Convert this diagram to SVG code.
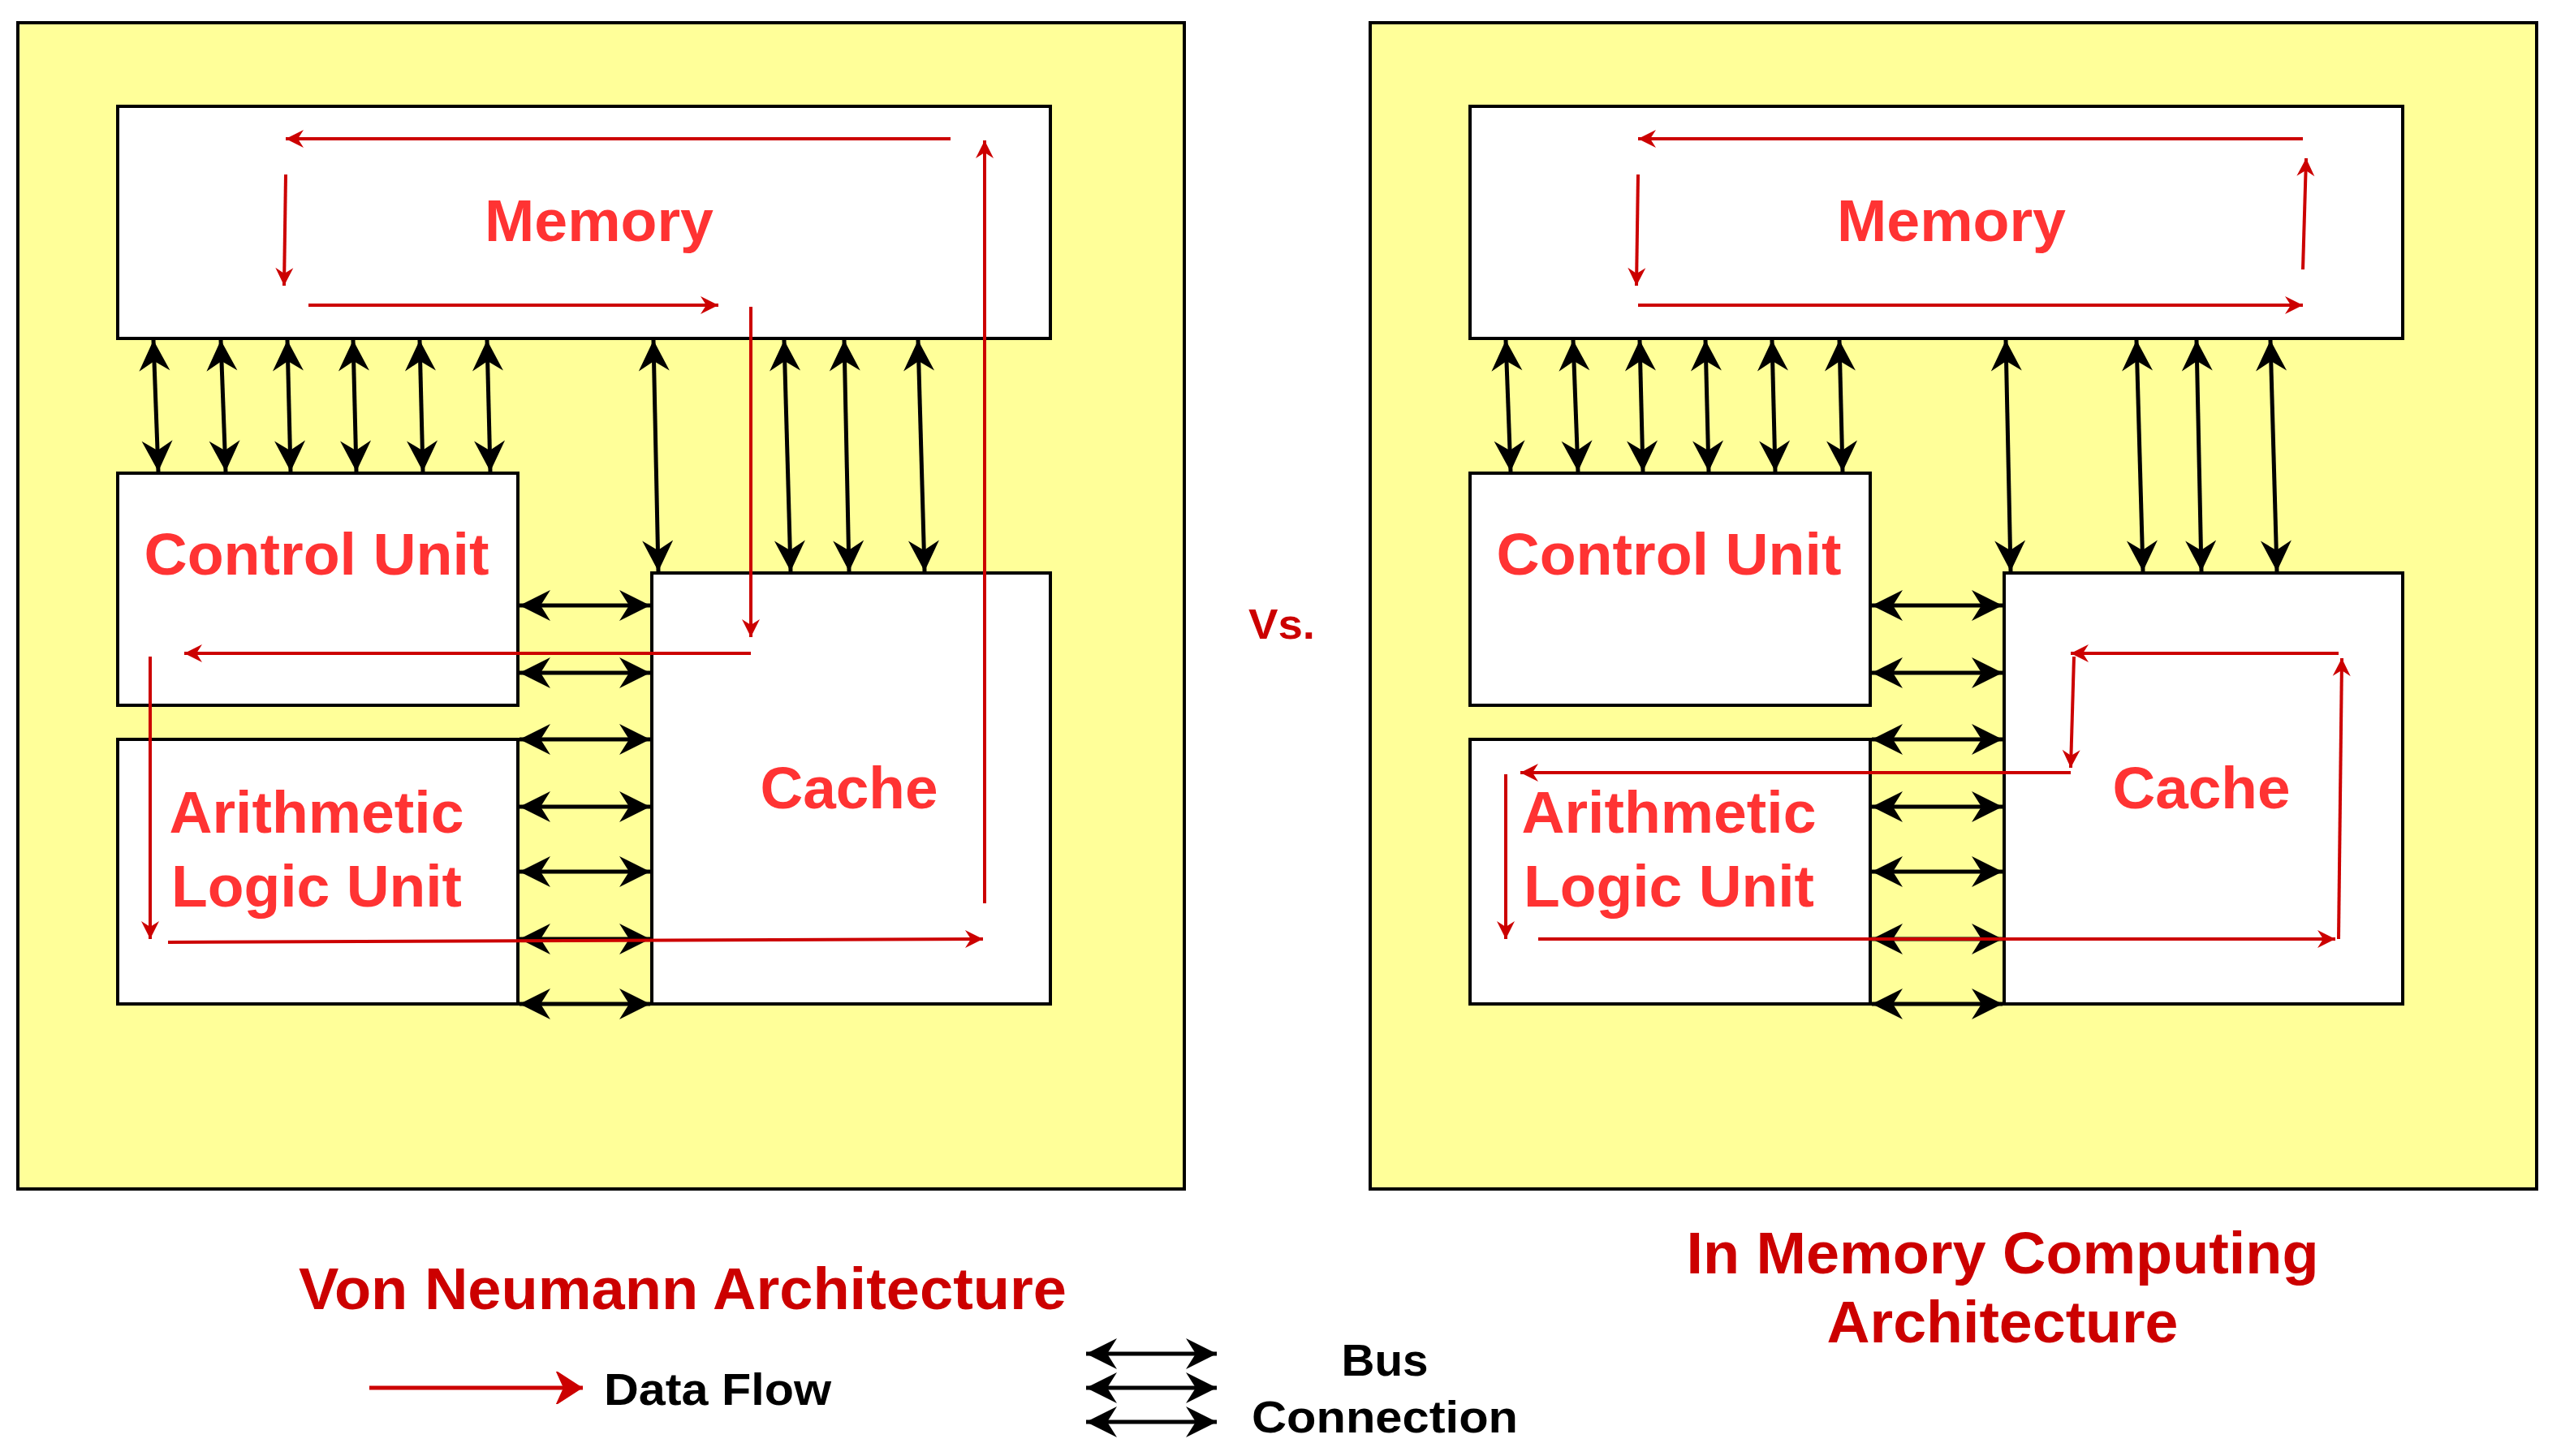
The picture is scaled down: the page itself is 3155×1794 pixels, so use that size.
<svg xmlns="http://www.w3.org/2000/svg" width="3155" height="1794" viewBox="0 0 3155 1794">
<style>
.panel{fill:#ffff99;stroke:#000;stroke-width:4}
.box{fill:#fff;stroke:#000;stroke-width:4}
.lbl{font-family:"Liberation Sans",Arial,sans-serif;font-weight:bold;font-size:72px;fill:#ff3333;text-anchor:middle}
.title{font-family:"Liberation Sans",Arial,sans-serif;font-weight:bold;font-size:72px;fill:#cc0000;text-anchor:middle}
.leg{font-family:"Liberation Sans",Arial,sans-serif;font-weight:bold;font-size:56px;fill:#000}
.bus{stroke:#000;stroke-width:5;fill:none;marker-start:url(#bk);marker-end:url(#bk)}
.flow{stroke:#cc0000;stroke-width:4;fill:none;marker-end:url(#rd)}
</style>
<defs>
<marker id="bk" viewBox="-40 -20 42 40" refX="0" refY="0" markerWidth="42" markerHeight="40" markerUnits="userSpaceOnUse" orient="auto-start-reverse">
<path d="M-38,-19 L0,0 L-38,19 L-26,0 Z" fill="#000"/>
</marker>
<marker id="rd" viewBox="-24 -12 26 24" refX="0" refY="0" markerWidth="26" markerHeight="24" markerUnits="userSpaceOnUse" orient="auto">
<path d="M-22,-11 L0,0 L-22,11 L-15,0 Z" fill="#cc0000"/>
</marker>
<marker id="rdL" viewBox="-40 -20 42 40" refX="0" refY="0" markerWidth="42" markerHeight="40" markerUnits="userSpaceOnUse" orient="auto">
<path d="M-34,-22 L0,0 L-34,22 L-24,0 Z" fill="#cc0000"/>
</marker>
</defs>
<rect width="3155" height="1794" fill="#fff"/>

<g id="panel-left">
<rect class="panel" x="22" y="28" width="1437" height="1437"/>
</g>
<g id="panel-right">
<rect class="panel" x="1688" y="28" width="1437" height="1437"/>
</g>

<g id="memory-left"><rect class="box" x="145" y="131" width="1149" height="286"/><text class="lbl" x="738" y="297" textLength="282" lengthAdjust="spacingAndGlyphs">Memory</text></g>
<g id="cu-left"><rect class="box" x="145" y="583" width="493" height="286"/><text class="lbl" x="390" y="708" textLength="425" lengthAdjust="spacingAndGlyphs">Control Unit</text></g>
<g id="alu-left"><rect class="box" x="145" y="911" width="493" height="326"/><text class="lbl" x="390" y="1026" textLength="363" lengthAdjust="spacingAndGlyphs">Arithmetic</text><text class="lbl" x="390" y="1117" textLength="358" lengthAdjust="spacingAndGlyphs">Logic Unit</text></g>
<g id="cache-left"><rect class="box" x="803" y="706" width="491" height="531"/><text class="lbl" x="1046" y="996" textLength="219" lengthAdjust="spacingAndGlyphs">Cache</text></g>

<g id="memory-right"><rect class="box" x="1811" y="131" width="1149" height="286"/><text class="lbl" x="2404" y="297" textLength="282" lengthAdjust="spacingAndGlyphs">Memory</text></g>
<g id="cu-right"><rect class="box" x="1811" y="583" width="493" height="286"/><text class="lbl" x="2056" y="708" textLength="425" lengthAdjust="spacingAndGlyphs">Control Unit</text></g>
<g id="alu-right"><rect class="box" x="1811" y="911" width="493" height="326"/><text class="lbl" x="2056" y="1026" textLength="363" lengthAdjust="spacingAndGlyphs">Arithmetic</text><text class="lbl" x="2056" y="1117" textLength="358" lengthAdjust="spacingAndGlyphs">Logic Unit</text></g>
<g id="cache-right"><rect class="box" x="2469" y="706" width="491" height="531"/><text class="lbl" x="2712" y="996" textLength="219" lengthAdjust="spacingAndGlyphs">Cache</text></g>

<g id="connectors">
<g id="bus-left">
<line class="bus" x1="189" y1="419" x2="195" y2="581"/>
<line class="bus" x1="272" y1="419" x2="278" y2="581"/>
<line class="bus" x1="354" y1="419" x2="358" y2="581"/>
<line class="bus" x1="435" y1="419" x2="439" y2="581"/>
<line class="bus" x1="517" y1="419" x2="521" y2="581"/>
<line class="bus" x1="600" y1="419" x2="604" y2="581"/>
<line class="bus" x1="805" y1="419" x2="811" y2="704"/>
<line class="bus" x1="966" y1="419" x2="974" y2="704"/>
<line class="bus" x1="1040" y1="419" x2="1046" y2="704"/>
<line class="bus" x1="1131" y1="419" x2="1139" y2="704"/>
<line class="bus" x1="640" y1="746" x2="801" y2="746"/>
<line class="bus" x1="640" y1="829" x2="801" y2="829"/>
<line class="bus" x1="640" y1="911" x2="801" y2="911"/>
<line class="bus" x1="640" y1="994" x2="801" y2="994"/>
<line class="bus" x1="640" y1="1074" x2="801" y2="1074"/>
<line class="bus" x1="640" y1="1157" x2="801" y2="1157"/>
<line class="bus" x1="640" y1="1237" x2="801" y2="1237"/>
</g>
<g id="bus-right" transform="translate(1666,0)">
<line class="bus" x1="189" y1="419" x2="195" y2="581"/>
<line class="bus" x1="272" y1="419" x2="278" y2="581"/>
<line class="bus" x1="354" y1="419" x2="358" y2="581"/>
<line class="bus" x1="435" y1="419" x2="439" y2="581"/>
<line class="bus" x1="517" y1="419" x2="521" y2="581"/>
<line class="bus" x1="600" y1="419" x2="604" y2="581"/>
<line class="bus" x1="805" y1="419" x2="811" y2="704"/>
<line class="bus" x1="966" y1="419" x2="974" y2="704"/>
<line class="bus" x1="1040" y1="419" x2="1046" y2="704"/>
<line class="bus" x1="1131" y1="419" x2="1139" y2="704"/>
<line class="bus" x1="640" y1="746" x2="801" y2="746"/>
<line class="bus" x1="640" y1="829" x2="801" y2="829"/>
<line class="bus" x1="640" y1="911" x2="801" y2="911"/>
<line class="bus" x1="640" y1="994" x2="801" y2="994"/>
<line class="bus" x1="640" y1="1074" x2="801" y2="1074"/>
<line class="bus" x1="640" y1="1157" x2="801" y2="1157"/>
<line class="bus" x1="640" y1="1237" x2="801" y2="1237"/>
</g>
<g id="flow-left">
<line class="flow" x1="1171" y1="171" x2="352" y2="171"/>
<line class="flow" x1="352" y1="215" x2="350" y2="352"/>
<line class="flow" x1="380" y1="376" x2="885" y2="376"/>
<line class="flow" x1="925" y1="378" x2="925" y2="785"/>
<line class="flow" x1="925" y1="805" x2="227" y2="805"/>
<line class="flow" x1="185" y1="809" x2="185" y2="1157"/>
<line class="flow" x1="207" y1="1161" x2="1211" y2="1157"/>
<line class="flow" x1="1213" y1="1113" x2="1213" y2="173"/>
</g>
<g id="flow-right">
<line class="flow" x1="2837" y1="171" x2="2018" y2="171"/>
<line class="flow" x1="2018" y1="215" x2="2016" y2="352"/>
<line class="flow" x1="2018" y1="376" x2="2837" y2="376"/>
<line class="flow" x1="2837" y1="332" x2="2841" y2="195"/>
<line class="flow" x1="2881" y1="805" x2="2551" y2="805"/>
<line class="flow" x1="2555" y1="809" x2="2551" y2="946"/>
<line class="flow" x1="2551" y1="952" x2="1873" y2="952"/>
<line class="flow" x1="1855" y1="954" x2="1855" y2="1157"/>
<line class="flow" x1="1895" y1="1157" x2="2877" y2="1157"/>
<line class="flow" x1="2881" y1="1157" x2="2885" y2="811"/>
</g>
</g>

<text class="title" x="1579" y="787" font-size="52" textLength="82" lengthAdjust="spacingAndGlyphs" style="font-size:52px">Vs.</text>
<text class="title" x="841" y="1613" textLength="946" lengthAdjust="spacingAndGlyphs">Von Neumann Architecture</text>
<text class="title" x="2467" y="1569" textLength="779" lengthAdjust="spacingAndGlyphs">In Memory Computing</text>
<text class="title" x="2467" y="1654" textLength="433" lengthAdjust="spacingAndGlyphs">Architecture</text>

<g id="legend">
<line x1="455" y1="1710" x2="718" y2="1710" stroke="#cc0000" stroke-width="5" marker-end="url(#rdL)"/>
<text class="leg" x="744" y="1731" textLength="280" lengthAdjust="spacingAndGlyphs">Data Flow</text>
<line class="bus" x1="1338" y1="1668" x2="1499" y2="1668"/>
<line class="bus" x1="1338" y1="1710" x2="1499" y2="1710"/>
<line class="bus" x1="1338" y1="1752" x2="1499" y2="1752"/>
<text class="leg" x="1706" y="1695" text-anchor="middle" textLength="107" lengthAdjust="spacingAndGlyphs">Bus</text>
<text class="leg" x="1706" y="1765" text-anchor="middle" textLength="328" lengthAdjust="spacingAndGlyphs">Connection</text>
</g>
</svg>
